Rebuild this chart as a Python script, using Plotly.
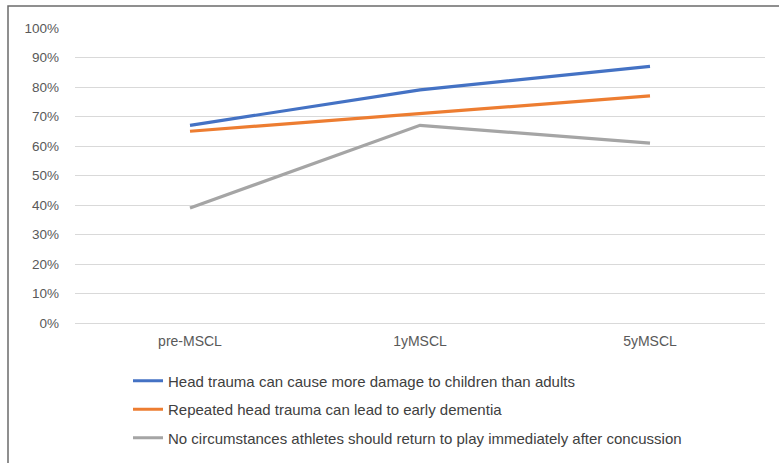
import plotly.graph_objects as go

categories = ["pre-MSCL", "1yMSCL", "5yMSCL"]
series_names = [
    "Head trauma can cause more damage to children than adults",
    "Repeated head trauma can lead to early dementia",
    "No circumstances athletes should return to play immediately after concussion",
]
head_trauma_children = [0.67, 0.79, 0.87]
repeated_trauma_dementia = [0.65, 0.71, 0.77]
no_return_to_play = [0.39, 0.67, 0.61]
colors = ["#4472C4", "#ED7D31", "#A5A5A5"]

W, H = 779, 463
L, R, T, B = 75, 14, 28, 140
pw = W - L - R
ph = H - T - B

def px_x(x):
    return (x - L) / pw

def px_y(y):
    return (H - B - y) / ph

FONT = "Liberation Sans, Arial, sans-serif"

fig = go.Figure()
for i, (name, vals) in enumerate(zip(series_names,
                                      [head_trauma_children, repeated_trauma_dementia, no_return_to_play])):
    fig.add_trace(go.Scatter(
        x=categories, y=vals, mode="lines", name=name,
        line=dict(color=colors[i], width=3.2),
        legendgroup=f"g{i}",
        hoverinfo="skip",
    ))

fig.update_layout(
    width=W, height=H,
    margin=dict(l=L, r=R, t=T, b=B, autoexpand=False),
    paper_bgcolor="white", plot_bgcolor="white",
    font=dict(family=FONT, size=13, color="#595959"),
    showlegend=True,
    legend=dict(
        x=px_x(128), xanchor="left",
        y=px_y(364.5), yanchor="top",
        orientation="v",
        tracegroupgap=6,
        font=dict(family=FONT, size=15, color="#404040"),
        bgcolor="rgba(0,0,0,0)",
        itemwidth=30,
    ),
    xaxis=dict(
        type="category", range=[-0.5, 2.5],
        showgrid=False, showline=False, zeroline=False,
        ticks="", ticklabelstandoff=8,
        tickfont=dict(size=14, color="#595959"),
        fixedrange=True,
    ),
    yaxis=dict(
        range=[0, 1], dtick=0.1, tick0=0, tickformat=".0%",
        showgrid=True, gridcolor="#D9D9D9", gridwidth=1,
        zeroline=True, zerolinecolor="#D9D9D9", zerolinewidth=1,
        showline=False, ticks="", ticklabelstandoff=15,
        tickfont=dict(size=13.5, color="#595959"),
        fixedrange=True,
    ),
    shapes=[
        dict(type="rect", xref="paper", yref="paper",
             x0=px_x(8), x1=px_x(W + 20), y0=px_y(H + 20), y1=px_y(6),
             line=dict(color="#6b6b6b", width=1.5), fillcolor="rgba(0,0,0,0)", layer="below"),
    ],
)

fig.write_html("out.html", config={"displayModeBar": False},
               post_script="document.body.style.margin='0';document.body.style.overflow='hidden';")
